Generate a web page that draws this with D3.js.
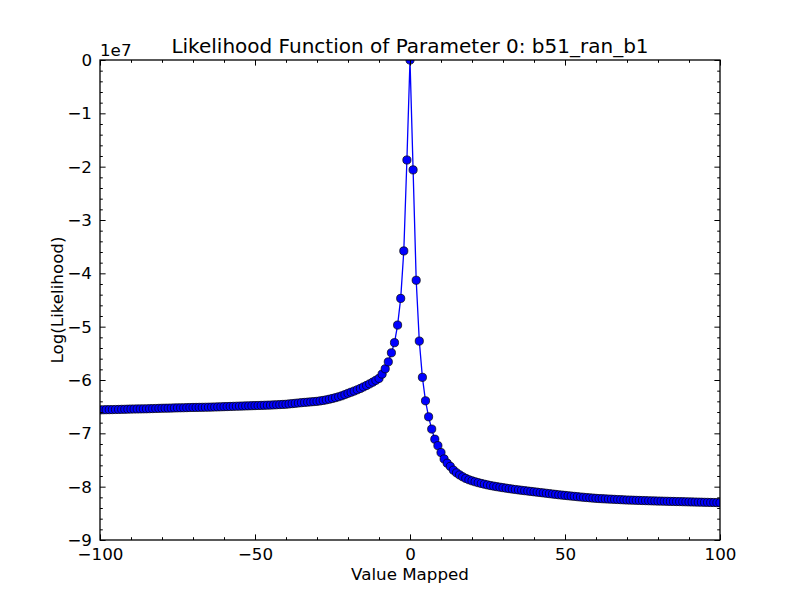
<!DOCTYPE html>
<html>
<head>
<meta charset="utf-8">
<script src="https://cdnjs.cloudflare.com/ajax/libs/d3/7.8.5/d3.min.js"></script>
<style>
    body { margin: 0; background: #fff; }
    text { font-family: "DejaVu Sans", sans-serif; fill: #000; }
</style>
</head>
<body>
<div id="the_chart"></div>
<script>
// parameter grid: starts at -100, one step per point
var paramStart = -100;
var paramStep = 1;

// log likelihood, in units of 1e7
var loglikLeft = [
    -6.560, -6.558, -6.557, -6.556, -6.555, -6.553, -6.552, -6.550, -6.549, -6.547,
    -6.545, -6.544, -6.543, -6.542, -6.541, -6.540, -6.538, -6.536, -6.534, -6.532,
    -6.530, -6.529, -6.528, -6.526, -6.524, -6.522, -6.521, -6.520, -6.518, -6.516,
    -6.515, -6.514, -6.513, -6.512, -6.511, -6.510, -6.508, -6.506, -6.504, -6.502,
    -6.500, -6.498, -6.496, -6.494, -6.492, -6.490, -6.488, -6.486, -6.484, -6.482,
    -6.480, -6.478, -6.476, -6.474, -6.472, -6.470, -6.467, -6.464, -6.461, -6.458,
    -6.455, -6.449, -6.443, -6.437, -6.431, -6.425, -6.420, -6.415, -6.410, -6.405,
    -6.400, -6.392, -6.383, -6.372, -6.360, -6.346, -6.331, -6.314, -6.296, -6.274,
    -6.250, -6.229, -6.207, -6.183, -6.158, -6.130, -6.102, -6.072, -6.040, -6.006,
    -5.970, -5.890, -5.790, -5.660, -5.490, -5.300, -4.970, -4.470, -3.580, -1.875
];
var loglikPeak = [0];
var loglikRight = [
    -2.060, -4.130, -5.270, -5.950, -6.390, -6.690, -6.920, -7.110, -7.230, -7.360,
    -7.480, -7.560, -7.620, -7.690, -7.740, -7.780, -7.815, -7.845, -7.870, -7.890,
    -7.908, -7.925, -7.940, -7.954, -7.967, -7.979, -7.990, -8.000, -8.010, -8.019,
    -8.028, -8.037, -8.045, -8.053, -8.061, -8.068, -8.075, -8.082, -8.089, -8.096,
    -8.103, -8.110, -8.117, -8.124, -8.131, -8.138, -8.145, -8.152, -8.158, -8.164,
    -8.170, -8.176, -8.182, -8.188, -8.194, -8.199, -8.204, -8.209, -8.214, -8.219,
    -8.223, -8.226, -8.229, -8.232, -8.235, -8.238, -8.241, -8.244, -8.247, -8.250,
    -8.252, -8.254, -8.256, -8.258, -8.260, -8.262, -8.264, -8.266, -8.268, -8.270,
    -8.271, -8.273, -8.274, -8.276, -8.277, -8.279, -8.280, -8.282, -8.283, -8.285,
    -8.287, -8.288, -8.290, -8.291, -8.293, -8.294, -8.296, -8.297, -8.299, -8.300
];

var xTicks = [-100, -50, 0, 50, 100];
var yTicks = [0, -1, -2, -3, -4, -5, -6, -7, -8, -9];

var titleText = "Likelihood Function of Parameter 0: b51_ran_b1";
var xLabel = "Value Mapped";
var yLabel = "Log(Likelihood)";

likelihoodPlot();

function likelihoodPlot() {
    var loglik = loglikLeft.concat(loglikPeak, loglikRight);
    var dataset = loglik.map(function(v, i) {
        return { x: paramStart + i * paramStep, y: v };
    });

    var w = 800;
    var h = 600;
    var pl = 100, pr = 720, pt = 60, pb = 540; // axes box
    var major = 5.6, minor = 2.8; // tick lengths (inside)

    var svg = d3.select("#the_chart")
        .append("svg")
        .attr("width", w)
        .attr("height", h);

    var xscale = d3.scaleLinear().domain([-100, 100]).range([pl, pr]);
    var yscale = d3.scaleLinear().domain([-9, 0]).range([pb, pt]);
    var fmt = d3.format("d");

    svg.append("clipPath").attr("id", "clip")
        .append("rect")
        .attr("x", pl).attr("y", pt)
        .attr("width", pr - pl).attr("height", pb - pt);

    var plot = svg.append("g").attr("clip-path", "url(#clip)");

    // line
    plot.append("path")
        .datum(dataset)
        .attr("fill", "none")
        .attr("stroke", "#0000ff")
        .attr("stroke-width", 1.3)
        .attr("d", d3.line()
            .x(function(d) { return xscale(d.x); })
            .y(function(d) { return yscale(d.y); }));

    // markers
    plot.selectAll("circle")
        .data(dataset)
        .enter().append("circle")
        .attr("cx", function(d) { return xscale(d.x); })
        .attr("cy", function(d) { return yscale(d.y); })
        .attr("r", 4.1)
        .attr("fill", "#0000ff")
        .attr("stroke", "#000")
        .attr("stroke-width", 0.7);

    // axes, ticks inside on all four sides
    var xaxisB = d3.axisBottom(xscale).tickValues(xTicks).tickSize(-major).tickPadding(8).tickFormat(fmt);
    var xaxisT = d3.axisTop(xscale).tickValues(xTicks).tickSize(-major).tickFormat("");
    var yaxisL = d3.axisLeft(yscale).tickValues(yTicks).tickSize(-major).tickPadding(8).tickFormat(fmt);
    var yaxisR = d3.axisRight(yscale).tickValues(yTicks).tickSize(-major).tickFormat("");

    var xMinor = d3.range(-100, 101, 10).filter(function(v) { return v % 50 != 0; });
    var yMinor = d3.range(-90, 1, 2).filter(function(v) { return v % 10 != 0; })
        .map(function(v) { return v / 10; });

    function minorAxis(axis, vals) {
        return axis.tickValues(vals).tickSize(-minor).tickFormat("");
    }

    function addAxis(ax, tx) {
        var g = svg.append("g")
            .attr("transform", tx)
            .call(ax);
        g.select(".domain").remove();
        g.selectAll("line").attr("stroke", "#000").attr("stroke-width", 1);
        g.selectAll("text")
            .style("font-family", "DejaVu Sans")
            .style("font-size", "16.7px")
            .attr("fill", "#000");
        return g;
    }

    addAxis(xaxisB, "translate(0," + pb + ")");
    addAxis(xaxisT, "translate(0," + pt + ")");
    addAxis(yaxisL, "translate(" + pl + ",0)");
    addAxis(yaxisR, "translate(" + pr + ",0)");
    addAxis(minorAxis(d3.axisBottom(xscale), xMinor), "translate(0," + pb + ")");
    addAxis(minorAxis(d3.axisTop(xscale), xMinor), "translate(0," + pt + ")");
    addAxis(minorAxis(d3.axisLeft(yscale), yMinor), "translate(" + pl + ",0)");
    addAxis(minorAxis(d3.axisRight(yscale), yMinor), "translate(" + pr + ",0)");

    // frame
    svg.append("rect")
        .attr("x", pl).attr("y", pt)
        .attr("width", pr - pl).attr("height", pb - pt)
        .attr("fill", "none")
        .attr("stroke", "#000")
        .attr("stroke-width", 1.3);

    // texts
    svg.append("text")
        .attr("x", (pl + pr) / 2).attr("y", 53)
        .attr("text-anchor", "middle")
        .style("font-size", "20px")
        .text(titleText);

    svg.append("text")
        .attr("x", pl).attr("y", 56)
        .style("font-size", "16.7px")
        .text("1e7");

    svg.append("text")
        .attr("x", (pl + pr) / 2).attr("y", 580)
        .attr("text-anchor", "middle")
        .style("font-size", "16.7px")
        .text(xLabel);

    svg.append("text")
        .attr("transform", "translate(63," + (pt + pb) / 2 + ") rotate(-90)")
        .attr("text-anchor", "middle")
        .style("font-size", "16.7px")
        .text(yLabel);
}
</script>
</body>
</html>
